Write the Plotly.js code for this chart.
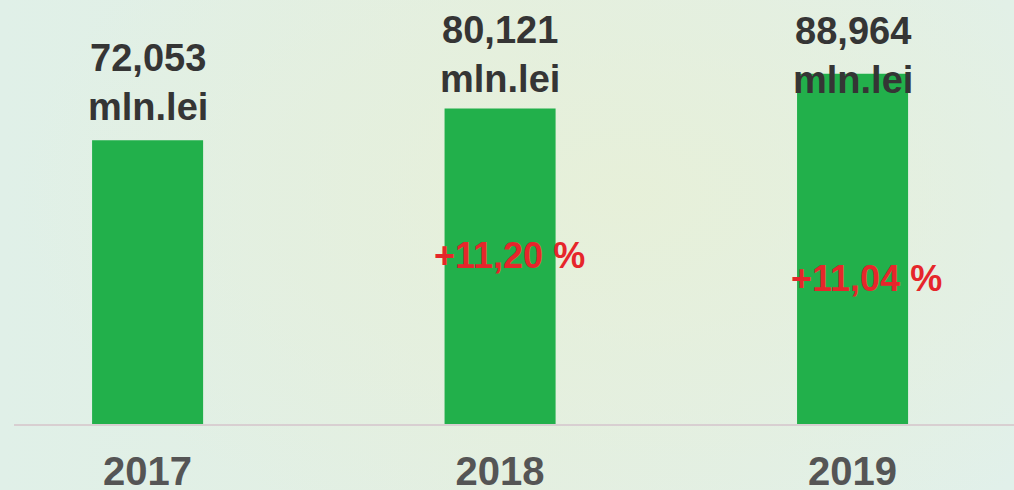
<!DOCTYPE html>
<html>
<head>
<meta charset="utf-8">
<script src="https://cdn.plot.ly/plotly-3.0.1.min.js"></script>
<style>
  html, body { margin: 0; padding: 0; }
  body {
    width: 1014px; height: 490px; overflow: hidden;
    background:
      radial-gradient(ellipse 60% 75% at 62% 40%, rgba(231,240,216,0.9) 0%, rgba(231,240,216,0) 100%),
      linear-gradient(90deg, #e0f0e8 0%, #e3efe2 50%, #e1f0ea 100%);
  }
  #chart { width: 1014px; height: 490px; }
</style>
</head>
<body>
<div id="chart"></div>
<script>
const years = ['2017', '2018', '2019'];
const values = [72.053, 80.121, 88.964];
const valueLabels = ['72,053', '80,121', '88,964'];
const unitLabel = 'mln.lei';
const growthLabels = [null, '+11,20 %', '+11,04 %'];

// style offsets (pixels / paper fractions) for the annotation placement
const valueLabelShift = [10, 7, -29];
const growthLabelPos = [null, 0.398, 0.343];
const growthLabelXShift = [0, 9, 14];

const FONT = '"Liberation Sans", Arial, Helvetica, sans-serif';

const annotations = [];
years.forEach((yr, i) => {
  annotations.push({
    x: i, y: values[i], xref: 'x', yref: 'y',
    text: '<b>' + valueLabels[i] + '<br>' + unitLabel + '</b>',
    showarrow: false, yanchor: 'bottom', xanchor: 'center',
    yshift: valueLabelShift[i],
    font: { family: FONT, size: 38, color: '#353535' }
  });
  if (growthLabels[i]) {
    annotations.push({
      x: i, y: growthLabelPos[i], xref: 'x', yref: 'paper',
      text: '<b>' + growthLabels[i] + '</b>', showarrow: false,
      xanchor: 'center', yanchor: 'middle', xshift: growthLabelXShift[i],
      font: { family: FONT, size: 36, color: '#e6262b' }
    });
  }
});

const trace = {
  type: 'bar', x: years, y: values,
  width: 0.315,
  marker: { color: '#22b04b' },
  hoverinfo: 'skip'
};

const layout = {
  width: 1014, height: 490,
  margin: { l: 14, r: 0, t: 0, b: 66 },
  paper_bgcolor: 'rgba(0,0,0,0)',
  plot_bgcolor: 'rgba(0,0,0,0)',
  showlegend: false,
  xaxis: {
    type: 'category',
    range: [-0.379, 2.458],
    showgrid: false, zeroline: false,
    showline: true, linecolor: '#d8cfd1', linewidth: 2,
    layer: 'below traces',
    ticks: '', ticklabelstandoff: 11,
    tickfont: { family: FONT, size: 40, color: '#555555', weight: 'bold' },
    fixedrange: true
  },
  yaxis: {
    range: [0, 107.7],
    visible: false, showgrid: false, zeroline: false,
    fixedrange: true
  },
  annotations: annotations
};

Plotly.newPlot('chart', [trace], layout, { displayModeBar: false, staticPlot: true });
</script>
</body>
</html>
